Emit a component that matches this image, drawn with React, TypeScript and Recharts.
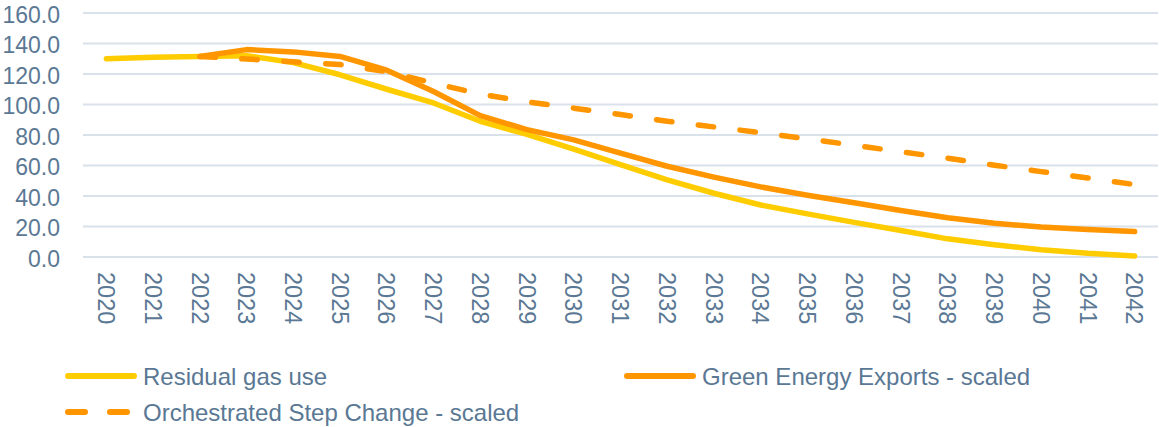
import React from 'react';
import { LineChart, Line, XAxis, YAxis, CartesianGrid, Legend } from 'recharts';

const years = [
  '2020', '2021', '2022', '2023', '2024', '2025', '2026', '2027', '2028', '2029', '2030', '2031',
  '2032', '2033', '2034', '2035', '2036', '2037', '2038', '2039', '2040', '2041', '2042',
];

const residualGasUse = [
  130, 131, 131.5, 132, 127.5, 119.5, 110, 101, 89, 80.4, 70.7, 60.6,
  50.6, 41.8, 34.1, 28.3, 22.7, 17.4, 11.9, 8.1, 4.8, 2.4, 0.7,
];

const greenEnergyExports = [
  null, null, 131.5, 136, 134.5, 131.5, 122.5, 108.5, 92.7, 83.5, 76.8, 68.1,
  59.5, 52.4, 46, 40.5, 35.6, 30.5, 25.7, 22.2, 19.6, 18, 16.7,
];

const orchestratedStepChange = [
  null, null, 131.5, 129.8, 128, 126.2, 121.5, 114, 106.8, 101.8, 97.6, 93.4,
  89, 85.3, 81.5, 77.4, 73.3, 69, 64.8, 60.2, 56, 51.8, 47.5,
];

const yTicks = [0, 20, 40, 60, 80, 100, 120, 140, 160];

const seriesNames = [
  'Residual gas use',
  'Green Energy Exports - scaled',
  'Orchestrated Step Change - scaled',
];

const data = years.map((year, i) => ({
  year,
  residual: residualGasUse[i],
  green: greenEnergyExports[i],
  step: orchestratedStepChange[i],
}));

const TEXT = '#5a7894';
const FONT = '"Liberation Sans", Arial, sans-serif';
const YELLOW = '#ffcc00';
const ORANGE = '#ff9600';
const GRID = '#d9e2eb';

const XTick = (props: any) => {
  const { x, y, payload } = props;
  return (
    <text
      x={x}
      y={y}
      transform={`rotate(90, ${x}, ${y})`}
      dy="0.355em"
      textAnchor="start"
      fill={TEXT}
      fontSize={23.5}
      fontFamily={FONT}
    >
      {payload.value}
    </text>
  );
};

const YTick = (props: any) => {
  const { x, y, payload } = props;
  return (
    <text x={x} y={y} dy={9.7} textAnchor="end" fill={TEXT} fontSize={23} fontFamily={FONT}>
      {Number(payload.value).toFixed(1)}
    </text>
  );
};

const LegendContent = (props: any) => {
  const payload = props.payload || [];
  const spots = [
    { lx: 68, tx: 143, cy: 21 },
    { lx: 627, tx: 702, cy: 21 },
    { lx: 68, tx: 143, cy: 57 },
  ];
  return (
    <svg width={1159} height={72} style={{ display: 'block' }}>
      {payload.map((entry: any, i: number) => {
        const idx = seriesNames.indexOf(entry.value);
        const s = spots[idx >= 0 ? idx : i] || spots[0];
        const dashed = idx === 2;
        return (
          <g key={i}>
            <line
              x1={s.lx}
              x2={dashed ? s.lx + 62 : s.lx + 66}
              y1={s.cy}
              y2={s.cy}
              stroke={entry.color}
              strokeWidth={6}
              strokeLinecap="round"
              strokeDasharray={dashed ? '17 25' : undefined}
            />
            <text x={s.tx} y={s.cy + 8.5} fill={TEXT} fontSize={24} fontFamily={FONT}>
              {entry.value}
            </text>
          </g>
        );
      })}
    </svg>
  );
};

export default function App() {
  return (
    <div style={{ position: 'absolute', left: 0, top: 0, width: 1159, height: 427, background: '#fff' }}>
      <LineChart
        width={1159}
        height={427}
        data={data}
        margin={{ top: 13, right: 1, bottom: 0, left: 0 }}
      >
        <CartesianGrid vertical={false} stroke={GRID} strokeWidth={2} />
        <XAxis
          dataKey="year"
          axisLine={false}
          tickLine={false}
          tickSize={0}
          tickMargin={15}
          height={98}
          interval={0}
          padding={{ left: 23.4, right: 23.4 }}
          tick={<XTick />}
        />
        <YAxis
          domain={[0, 160]}
          ticks={yTicks}
          axisLine={false}
          tickLine={false}
          tickSize={0}
          tickMargin={23}
          width={83}
          tick={<YTick />}
        />
        <Line
          dataKey="residual"
          name={seriesNames[0]}
          stroke={YELLOW}
          strokeWidth={5.5}
          strokeLinecap="round"
          strokeLinejoin="round"
          dot={false}
          activeDot={false}
          type="linear"
          isAnimationActive={false}
        />
        <Line
          dataKey="green"
          name={seriesNames[1]}
          stroke={ORANGE}
          strokeWidth={5.5}
          strokeLinecap="round"
          strokeLinejoin="round"
          dot={false}
          activeDot={false}
          type="linear"
          isAnimationActive={false}
        />
        <Line
          dataKey="step"
          name={seriesNames[2]}
          stroke={ORANGE}
          strokeWidth={5.5}
          strokeDasharray="15.5 26.5"
          strokeLinecap="round"
          strokeLinejoin="round"
          dot={false}
          activeDot={false}
          type="linear"
          isAnimationActive={false}
        />
        <Legend
          verticalAlign="bottom"
          content={<LegendContent />}
          wrapperStyle={{ left: 0, bottom: 0, width: 1159, height: 72, margin: 0 }}
        />
      </LineChart>
    </div>
  );
}
